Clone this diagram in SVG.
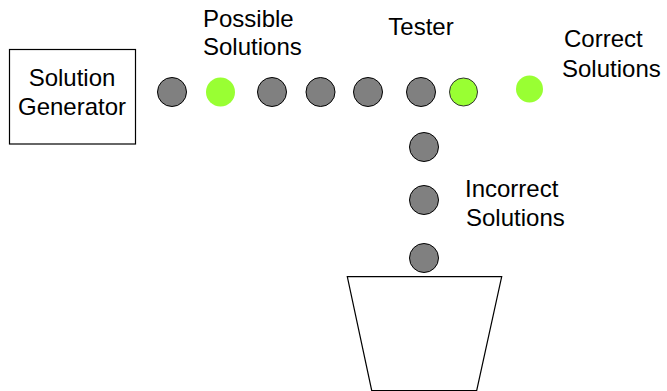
<svg xmlns="http://www.w3.org/2000/svg" width="667" height="391" viewBox="0 0 667 391">
<style>
text{font-family:"Liberation Sans",Arial,sans-serif;font-size:24px;fill:#000}
.g{fill:#808080;stroke:#000;stroke-width:1}
.y{fill:#99ff33;stroke:#333;stroke-width:1}
.yn{fill:#99ff33;stroke:none}
.sh{fill:#fff;stroke:#000;stroke-width:1.2}
</style>
<rect width="667" height="391" fill="#fff"/>
<g id="generator">
<rect class="sh" x="9.5" y="49.5" width="126" height="94.5"/>
<text x="72" y="86" text-anchor="middle">Solution</text>
<text x="72" y="115" text-anchor="middle">Generator</text>
</g>
<g id="possible-label"><text x="203" y="27">Possible</text><text x="203" y="55">Solutions</text></g>
<g id="tester-label"><text x="421" y="35" text-anchor="middle">Tester</text></g>
<g id="correct-label"><text x="564" y="47">Correct</text><text x="562" y="76.5">Solutions</text></g>
<g id="incorrect-label"><text x="465" y="197">Incorrect</text><text x="466" y="226">Solutions</text></g>
<g id="solutions">
<circle class="g" cx="172" cy="92" r="14.5"/>
<circle class="yn" cx="220.5" cy="92" r="14.5"/>
<circle class="g" cx="272" cy="92" r="14.5"/>
<circle class="g" cx="320.5" cy="92" r="14.5"/>
<circle class="g" cx="368" cy="92" r="14.5"/>
<circle class="g" cx="421" cy="92" r="14.5"/>
<circle class="y" cx="463.5" cy="92" r="14"/>
<circle class="yn" cx="529.5" cy="89" r="13.5"/>
<circle class="g" cx="424" cy="147" r="14.5"/>
<circle class="g" cx="424" cy="200" r="14.5"/>
<circle class="g" cx="424" cy="258" r="14.5"/>
</g>
<g id="bin">
<polygon class="sh" points="347.3,276.7 501.7,276.7 476.7,390.5 371.7,390.5"/>
</g>
<g id="connectors"></g>
</svg>
